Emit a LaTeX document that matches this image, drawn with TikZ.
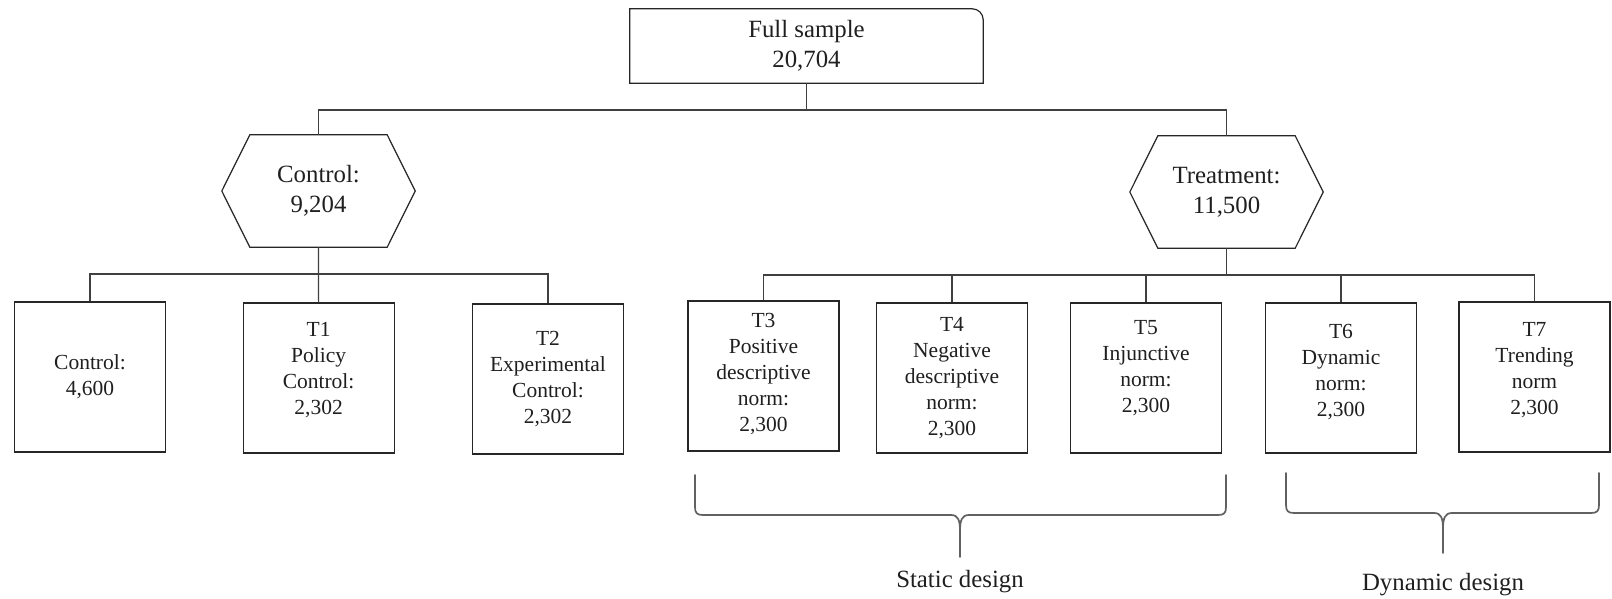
\documentclass[tikz,border=0pt]{standalone}
\usepackage{fontspec}
\setmainfont{Liberation Serif}
\newcommand\smtxt{\fontsize{21.5}{26}\selectfont}
\newcommand\bigtxt{\fontsize{24.8}{30}\selectfont}
\begin{document}
\begin{tikzpicture}[x=1pt,y=1pt,
  boxst/.style={draw=black!85, line width=1.2pt, minimum width=151pt, minimum height=150pt, inner sep=0pt},
  txtsm/.style={align=center, font=\smtxt, text=black!88, inner sep=0pt},
  txtbig/.style={align=center, font=\bigtxt, text=black!88, inner sep=0pt},
  hexarea/.style={minimum width=193pt, minimum height=112pt, inner sep=0pt},
  outline/.style={draw=black!85, line width=1.2pt},
  conn/.style={draw=black!75, line width=1.2pt},
  bracest/.style={draw=black!62, line width=1.7pt, line cap=round}
]
\useasboundingbox (0,0) rectangle (1612,-599);

% top box
\node[txtbig, minimum width=353pt, minimum height=74pt] (full) at (806.5,-46) {Full sample\\20,704};
\draw[outline] (full.south west) -- (full.north west) -- ([xshift=-11pt]full.north east)
  arc[start angle=90, end angle=0, radius=11pt] -- (full.south east) -- cycle;

% hexagons
\node[hexarea, txtbig] (ctrl) at (318.5,-191) {Control:\\9,204};
\draw[outline] (ctrl.west) -- ([xshift=28pt]ctrl.north west) -- ([xshift=-28pt]ctrl.north east)
  -- (ctrl.east) -- ([xshift=-28pt]ctrl.south east) -- ([xshift=28pt]ctrl.south west) -- cycle;
\node[hexarea, txtbig] (treat) at (1226.5,-192) {Treatment:\\11,500};
\draw[outline] (treat.west) -- ([xshift=28pt]treat.north west) -- ([xshift=-28pt]treat.north east)
  -- (treat.east) -- ([xshift=-28pt]treat.south east) -- ([xshift=28pt]treat.south west) -- cycle;

% boxes
\node[boxst] (c0) at (90,-377) {};
\node[txtsm] (c0t) at (c0.center) {Control:\\4,600};
\node[boxst] (t1) at (318.6,-378) {};
\node[txtsm] (t1t) at ([yshift=8pt]t1.center) {T1\\Policy\\Control:\\2,302};
\node[boxst] (t2) at (548,-379) {};
\node[txtsm] (t2t) at (t2.center) {T2\\Experimental\\Control:\\2,302};
\node[boxst] (t3) at (763.5,-376) {};
\node[txtsm] (t3t) at ([yshift=2pt]t3.center) {T3\\Positive\\descriptive\\norm:\\2,300};
\node[boxst] (t4) at (952,-378) {};
\node[txtsm] (t4t) at (t4.center) {T4\\Negative\\descriptive\\norm:\\2,300};
\node[boxst] (t5) at (1146,-378) {};
\node[txtsm] (t5t) at ([yshift=10pt]t5.center) {T5\\Injunctive\\norm:\\2,300};
\node[boxst] (t6) at (1341,-378) {};
\node[txtsm] (t6t) at ([yshift=6pt]t6.center) {T6\\Dynamic\\norm:\\2,300};
\node[boxst] (t7) at (1534.5,-377) {};
\node[txtsm] (t7t) at ([yshift=7pt]t7.center) {T7\\Trending\\norm\\2,300};

% bus coordinates
\coordinate (bus1) at (0,-110);
\coordinate (bus2) at (0,-274);
\coordinate (bus3) at (0,-275);

% connectors
\draw[conn] (full.south) -- (full.south |- bus1);
\draw[conn] (ctrl.north) -- (ctrl.north |- bus1) -- (treat.north |- bus1) -- (treat.north);

\draw[conn] (ctrl.south) -- (t1.north);
\draw[conn] (c0.north) -- (c0.north |- bus2) -- (t2.north |- bus2) -- (t2.north);

\draw[conn] (treat.south) -- (treat.south |- bus3);
\draw[conn] (t3.north) -- (t3.north |- bus3) -- (t7.north |- bus3) -- (t7.north);
\draw[conn] (t4.north) -- (t4.north |- bus3);
\draw[conn] (t5.north) -- (t5.north |- bus3);
\draw[conn] (t6.north) -- (t6.north |- bus3);

% braces
\coordinate (sbl) at (695,-475);
\coordinate (sbr) at (1226,-475);
\coordinate (sbt) at (960,-557);
\draw[bracest] (sbl) -- (695,-507) .. controls (695,-513) and (697,-515) .. (703,-515)
  -- (951,-515) .. controls (958,-515) and (960,-520) .. (960,-531) -- (sbt);
\draw[bracest] (sbr) -- (1226,-507) .. controls (1226,-513) and (1224,-515) .. (1218,-515)
  -- (969,-515) .. controls (962,-515) and (960,-520) .. (960,-531);
\coordinate (dbl) at (1286,-473);
\coordinate (dbr) at (1599,-473);
\coordinate (dbt) at (1443,-553);
\draw[bracest] (dbl) -- (1286,-505) .. controls (1286,-511) and (1288,-513) .. (1294,-513)
  -- (1434,-513) .. controls (1441,-513) and (1443,-518) .. (1443,-529) -- (dbt);
\draw[bracest] (dbr) -- (1599,-505) .. controls (1599,-511) and (1597,-513) .. (1591,-513)
  -- (1452,-513) .. controls (1445,-513) and (1443,-518) .. (1443,-529);

\node[txtbig, anchor=base] (slab) at (960,-587) {Static design};
\node[txtbig, anchor=base] (dlab) at (1443,-590) {Dynamic design};
\end{tikzpicture}
\end{document}
